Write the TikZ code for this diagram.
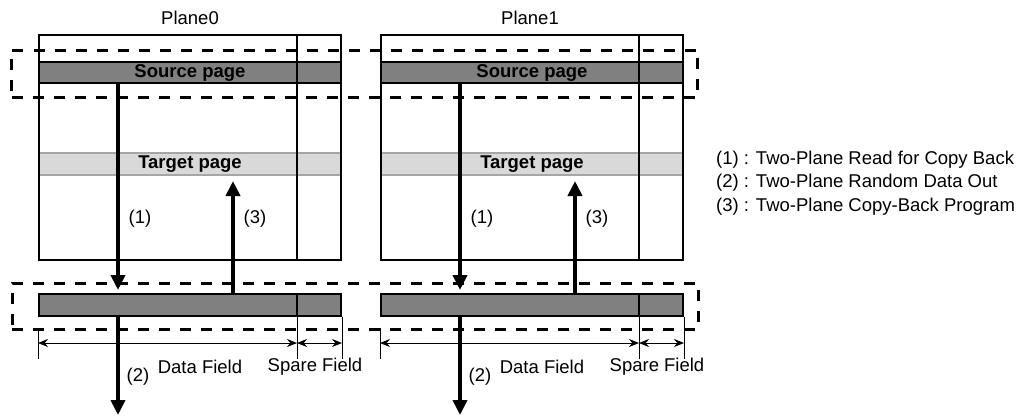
\documentclass[tikz,border=0pt]{standalone}
\usepackage{fontspec}
\setmainfont{Liberation Sans}
\usepackage{tikz}
\usetikzlibrary{arrows.meta, positioning, calc}

\definecolor{srcgray}{HTML}{808080}
\definecolor{tgtgray}{HTML}{D9D9D9}
\definecolor{tgtline}{HTML}{A6A6A6}

\begin{document}
\begin{tikzpicture}[x=1pt, y=-1pt,
        font=\fontsize{18.5}{22}\selectfont,
        plane/.style={rectangle, draw, line width=2pt, minimum width=302pt, minimum height=225pt, inner sep=0pt},
        srcpage/.style={rectangle, draw, line width=2pt, fill=srcgray, minimum width=302pt, minimum height=21pt, inner sep=0pt, font=\fontsize{18.5}{21}\selectfont\bfseries},
        tgtpage/.style={rectangle, draw=tgtline, line width=2pt, fill=tgtgray, minimum width=302pt, minimum height=22pt, inner sep=0pt, font=\fontsize{18.5}{21}\selectfont\bfseries},
        buffer/.style={rectangle, draw, line width=2pt, fill=srcgray, minimum width=302pt, minimum height=22pt, inner sep=0pt},
        group/.style={rectangle, draw, line width=3pt, dash pattern=on 11pt off 10pt, minimum width=686pt, minimum height=47pt, inner sep=0pt},
        divider/.style={line width=2pt},
        flow/.style={line width=4.5pt, -{Triangle[length=15pt, width=14pt]}},
        dim/.style={line width=1pt, {Stealth[length=10pt, width=8pt]}-{Stealth[length=10pt, width=8pt]}},
        tick/.style={line width=1pt},
        legend/.style={anchor=west, inner sep=0pt}
    ]
        \useasboundingbox (0,0) rectangle (1022,416);

        % Column positions
        \coordinate (div0) at (297,0);
        \coordinate (div1) at (639,0);
        \coordinate (out0) at (118,415);
        \coordinate (out1) at (460,415);
        \coordinate (up0) at (233,0);
        \coordinate (up1) at (575,0);

        % Planes
        \node[tgtpage] (tgt0) at (190,164) {Target page};
        \node[tgtpage] (tgt1) at (532,164) {Target page};
        \node[plane] (plane0) at (190,147.5) {};
        \node[plane] (plane1) at (532,147.5) {};
        \node[srcpage] (src0) at (190,72.5) {Source page};
        \node[srcpage] (src1) at (532,72.5) {Source page};
        \node (title0) at (190,18) {Plane0};
        \node (title1) at (530,18) {Plane1};

        % Page buffers
        \node[buffer] (buf0) at (190,305) {};
        \node[buffer] (buf1) at (532,305) {};

        % Dividers between data and spare field
        \draw[divider] (plane0.north -| div0) -- (plane0.south -| div0);
        \draw[divider] (plane1.north -| div1) -- (plane1.south -| div1);
        \draw[divider] (buf0.north -| div0) -- (buf0.south -| div0);
        \draw[divider] (buf1.north -| div1) -- (buf1.south -| div1);

        % Dashed groups
        \node[group] (srcgrp) at (354.5,73.5) {};
        \node[group, minimum height=46pt] (bufgrp) at (355,306) {};

        % Copy-back flow
        \draw[flow, shorten >=3pt] (src0.south -| out0) -- (buf0.north -| out0);
        \draw[flow, shorten >=5pt] (buf0.north -| up0) -- (tgt0.south -| up0);
        \draw[flow] (buf0.south -| out0) -- (out0);
        \draw[flow, shorten >=3pt] (src1.south -| out1) -- (buf1.north -| out1);
        \draw[flow, shorten >=5pt] (buf1.north -| up1) -- (tgt1.south -| up1);
        \draw[flow] (buf1.south -| out1) -- (out1);

        \node (lbl1p0) at (140,219) {(1)};
        \node (lbl3p0) at (255,219) {(3)};
        \node (lbl2p0) at (138,377) {(2)};
        \node (lbl1p1) at (482,219) {(1)};
        \node (lbl3p1) at (597,219) {(3)};
        \node (lbl2p1) at (480,377) {(2)};

        % Field widths
        \draw[tick] ($(buf0.south west)+(0,11)$) -- ($(buf0.south west)+(0,42)$);
        \draw[tick] (buf0.south -| div0) -- ($(buf0.south -| div0)+(0,42)$);
        \draw[tick] (buf0.south east) -- ($(buf0.south east)+(0,42)$);
        \draw[dim] ($(buf0.south west)+(0,26)$) -- ($(buf0.south -| div0)+(0,26)$);
        \draw[dim] ($(buf0.south -| div0)+(0,26)$) -- ($(buf0.south east)+(0,26)$);
        \draw[tick] ($(buf1.south west)+(0,11)$) -- ($(buf1.south west)+(0,42)$);
        \draw[tick] (buf1.south -| div1) -- ($(buf1.south -| div1)+(0,42)$);
        \draw[tick] (buf1.south east) -- ($(buf1.south east)+(0,42)$);
        \draw[dim] ($(buf1.south west)+(0,26)$) -- ($(buf1.south -| div1)+(0,26)$);
        \draw[dim] ($(buf1.south -| div1)+(0,26)$) -- ($(buf1.south east)+(0,26)$);

        \node (data0) at (200,367) {Data Field};
        \node (spare0) at (315,367) {Spare Field};
        \node (data1) at (542,367) {Data Field};
        \node (spare1) at (657,367) {Spare Field};

        % Legend
        \node[legend] (leg1) at (716,160) {(1) : Two-Plane Read for Copy Back};
        \node[legend] (leg2) at (716,183) {(2) : Two-Plane Random Data Out};
        \node[legend] (leg3) at (716,207) {(3) : Two-Plane Copy-Back Program};

    \end{tikzpicture}
\end{document}
